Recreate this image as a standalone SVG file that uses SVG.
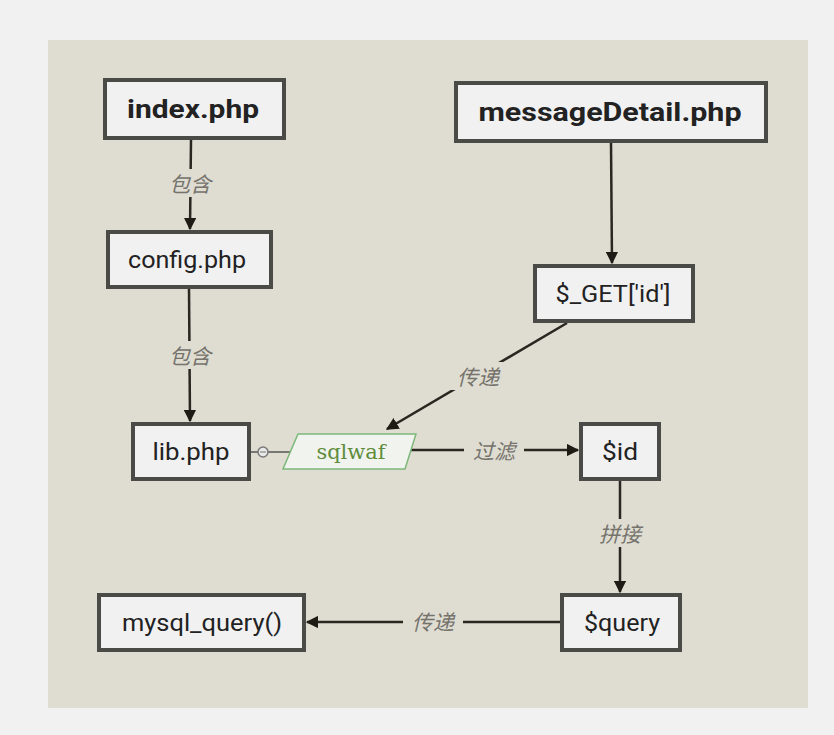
<svg xmlns="http://www.w3.org/2000/svg" width="834" height="735" viewBox="0 0 834 735">
<style>
.box{fill:#f1f1f2;stroke:#4a4a46;stroke-width:4}
.t{font-family:Roboto,"Liberation Sans",sans-serif;font-size:23px;fill:#222;text-anchor:middle;dominant-baseline:central}
.b{font-weight:bold;font-size:26px}
.ln{stroke:#2a2620;stroke-width:2.5;fill:none}
.lbl{font-family:"Noto Sans CJK SC",sans-serif;font-style:italic;font-size:21px;fill:#75736c;text-anchor:middle;dominant-baseline:central}
.bg{fill:#dfddd2}
</style>
<defs>
<marker id="ah" viewBox="0 0 10 10" refX="9" refY="5" markerWidth="5" markerHeight="5" orient="auto" markerUnits="strokeWidth">
<path d="M0,0 L10,5 L0,10 z" fill="#1e1a14"/>
</marker>
</defs>
<rect width="834" height="735" fill="#f1f1f1"/>
<rect x="48" y="40" width="760" height="668" class="bg"/>
<g id="connectors">
<line class="ln" x1="191" y1="140" x2="190" y2="229" marker-end="url(#ah)"/>
<rect x="162" y="169" width="56" height="28" class="bg"/>
<text class="lbl" x="190" y="183">包含</text>
<line class="ln" x1="189" y1="289" x2="190" y2="421" marker-end="url(#ah)"/>
<rect x="162" y="341" width="56" height="28" class="bg"/>
<text class="lbl" x="190" y="355">包含</text>
<line class="ln" x1="611" y1="143" x2="612" y2="263" marker-end="url(#ah)"/>
<line class="ln" x1="567" y1="323" x2="387" y2="429" marker-end="url(#ah)"/>
<rect x="448" y="362" width="60" height="28" class="bg"/>
<text class="lbl" x="478" y="376">传递</text>
<line class="ln" x1="407" y1="450" x2="578" y2="450" marker-end="url(#ah)"/>
<rect x="464" y="436" width="60" height="28" class="bg"/>
<text class="lbl" x="494" y="450">过滤</text>
<line class="ln" x1="620" y1="481" x2="620" y2="592" marker-end="url(#ah)"/>
<rect x="592" y="519" width="56" height="28" class="bg"/>
<text class="lbl" x="620" y="533">拼接</text>
<line class="ln" x1="560" y1="622" x2="307" y2="622" marker-end="url(#ah)"/>
<rect x="403" y="608" width="60" height="28" class="bg"/>
<text class="lbl" x="433" y="621">传递</text>
<line x1="251" y1="452" x2="293" y2="452" stroke="#555" stroke-width="1.5"/>
<circle cx="263" cy="452" r="5" fill="#e8e8e8" stroke="#777" stroke-width="1.5"/>
<line x1="260" y1="452" x2="266" y2="452" stroke="#777" stroke-width="1"/>
</g>
<g id="index"><rect class="box" x="105" y="80" width="179" height="58"/><text class="t b" x="193" y="109" textLength="132" lengthAdjust="spacingAndGlyphs">index.php</text></g>
<g id="config"><rect class="box" x="108" y="232" width="163" height="55"/><text class="t" x="187" y="260" textLength="118" lengthAdjust="spacingAndGlyphs">config.php</text></g>
<g id="lib"><rect class="box" x="133" y="424" width="116" height="55"/><text class="t" x="191" y="452" textLength="77" lengthAdjust="spacingAndGlyphs">lib.php</text></g>
<g id="messageDetail"><rect class="box" x="456" y="83" width="310" height="58"/><text class="t b" x="610" y="112" textLength="263" lengthAdjust="spacingAndGlyphs">messageDetail.php</text></g>
<g id="get"><rect class="box" x="535" y="266" width="158" height="55"/><text class="t" x="613" y="294" textLength="115" lengthAdjust="spacingAndGlyphs">$_GET['id']</text></g>
<g id="sqlwaf"><polygon points="298,434 416,434 405,469 283,469" fill="#f1f4ee" stroke="#7cb87a" stroke-width="1.5"/><text x="351" y="452" font-family="'DejaVu Serif',serif" font-size="21" fill="#5e8c3c" text-anchor="middle" dominant-baseline="central">sqlwaf</text></g>
<g id="id"><rect class="box" x="581" y="424" width="78" height="55"/><text class="t" x="620" y="452" textLength="36" lengthAdjust="spacingAndGlyphs">$id</text></g>
<g id="query"><rect class="box" x="562" y="595" width="118" height="55"/><text class="t" x="622" y="623" textLength="76" lengthAdjust="spacingAndGlyphs">$query</text></g>
<g id="mysql"><rect class="box" x="99" y="595" width="205" height="55"/><text class="t" x="202" y="623" textLength="160" lengthAdjust="spacingAndGlyphs">mysql_query()</text></g>
</svg>
